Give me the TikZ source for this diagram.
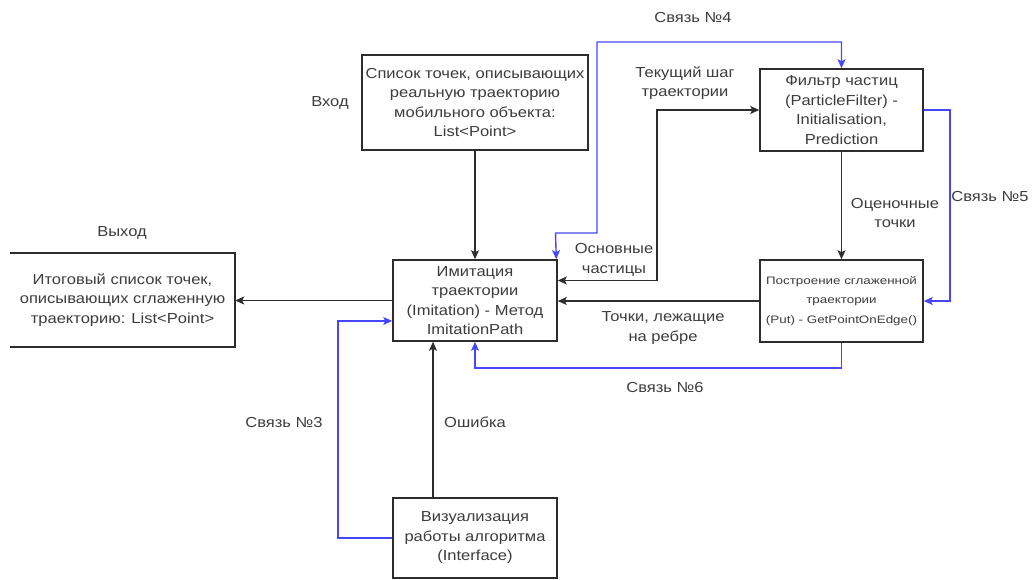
\documentclass[tikz,border=0pt]{standalone}
\usepackage{fontspec}
\setmainfont{Liberation Sans}
\newfontfamily\widefont[FakeStretch=1.14]{Liberation Sans}
\newfontfamily\widerfont[FakeStretch=1.24]{Liberation Sans}
\usetikzlibrary{arrows.meta}
\definecolor{ink}{RGB}{60,60,60}
\definecolor{edge}{RGB}{45,45,45}
\definecolor{link}{RGB}{70,70,255}
\begin{document}
\begin{tikzpicture}[x=1pt,y=-1pt,
  box/.style={draw=edge, line width=1.6pt, fill=white, align=center, text=ink,
    font=\widefont\fontsize{14.5}{19.5}\selectfont, inner sep=0pt},
  lbl/.style={align=center, text=ink, font=\widefont\fontsize{14.5}{19.5}\selectfont, inner sep=0pt},
  flow/.style={draw=edge, line width=1.4pt, -{Stealth[length=9pt,width=8pt,inset=2pt]}},
  flow2/.style={draw=edge, line width=1.4pt, {Stealth[length=9pt,width=8pt,inset=2pt]}-{Stealth[length=9pt,width=8pt,inset=2pt]}},
  bflow/.style={draw=link, line width=1.4pt, -{Stealth[length=9pt,width=8pt,inset=2pt]}},
  bflow2/.style={draw=link, line width=1.4pt, {Stealth[length=9pt,width=8pt,inset=2pt]}-{Stealth[length=9pt,width=8pt,inset=2pt]}},
]
\useasboundingbox (0,0) rectangle (1034,579);

% boxes
\node[box, minimum width=226pt, minimum height=95pt] (src) at (475,102.5)
  {Список точек, описывающих\\реальную траекторию\\мобильного объекта:\\List<Point>};
\node[lbl, minimum width=225pt, minimum height=94pt] (res) at (122.5,300)
  {Итоговый список точек,\\описывающих сглаженную\\траекторию: List<Point>};
\draw[edge, line width=1.6pt] (res.north west) -- (res.north east) -- (res.south east) -- (res.south west);
\node[box, minimum width=164pt, minimum height=81pt] (imit) at (475,300.5)
  {Имитация\\траектории\\(Imitation) - Метод\\ImitationPath};
\node[box, minimum width=163pt, minimum height=82pt] (filt) at (841.5,110)
  {Фильтр частиц\\(ParticleFilter) -\\Initialisation,\\Prediction};
\node[box, minimum width=163pt, minimum height=82pt, font=\widerfont\fontsize{10.8}{19.5}\selectfont] (smooth) at (841.5,301)
  {Построение сглаженной\\траектории\\(Put) - GetPointOnEdge()};
\node[box, minimum width=164pt, minimum height=80pt] (vis) at (475,538)
  {Визуализация\\работы алгоритма\\(Interface)};

% main data flow
\draw[flow] (src) -- (imit);
\draw[flow] (imit.west) -- (imit.west -| res.east);
\draw[flow] (filt) -- (smooth);
\draw[flow] (smooth.west) -- (smooth.west -| imit.east);
\draw[flow] ([xshift=-42pt]vis.north) -- ([xshift=-42pt]imit.south);
\draw[flow2] ([yshift=20pt]imit.east) -- (657,280.5) |- (filt.west);

% numbered links
\draw[bflow] (vis.west) -- (338,538) |- ([yshift=-20.5pt]imit.west);
\draw[bflow2] ([xshift=-1.5pt]imit.north east) -- (555.5,233) -- (597,233) -- (597,42) -| (filt.north);
\draw[bflow] (filt.east) -- (950,110) |- (smooth.east);
\draw[bflow] (smooth.south) -- (841.5,368) -| (imit.south);

% labels
\node[lbl] (lin) at (330,103) {Вход};
\node[lbl] (lout) at (122,233) {Выход};
\node[lbl] (lstep) at (685,83) {Текущий шаг\\траектории};
\node[lbl] (lpart) at (614,260) {Основные\\частицы};
\node[lbl] (lest) at (895,213) {Оценочные\\точки};
\node[lbl] (ledge) at (663,328) {Точки, лежащие\\на ребре};
\node[lbl] (lerr) at (475,422) {Ошибка};
\node[lbl] (l3) at (284,423) {Связь №3};
\node[lbl] (l4) at (693,18) {Связь №4};
\node[lbl] (l5) at (990,197) {Связь №5};
\node[lbl] (l6) at (665,388) {Связь №6};
\end{tikzpicture}
\end{document}
